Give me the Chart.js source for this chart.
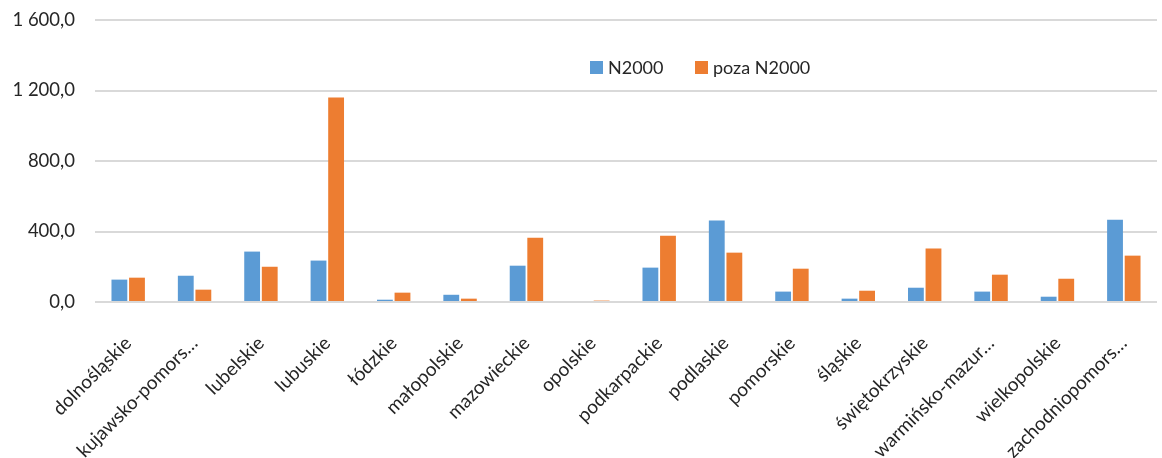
<!DOCTYPE html>
<html>
<head>
<meta charset="utf-8">
<script src="https://cdn.jsdelivr.net/npm/chart.js@4"></script>
<style>
  html, body { margin: 0; padding: 0; background: #ffffff; }
  #wrap { width: 1162px; height: 458px; }
</style>
</head>
<body>
<div id="wrap"><canvas id="chart"></canvas></div>
<script>
// Voivodeships (labels truncated as in the source chart)
const categories = [
    'dolnośląskie', 'kujawsko-pomors…', 'lubelskie', 'lubuskie', 'łódzkie',
    'małopolskie', 'mazowieckie', 'opolskie', 'podkarpackie', 'podlaskie',
    'pomorskie', 'śląskie', 'świętokrzyskie', 'warmińsko-mazur…', 'wielkopolskie',
    'zachodniopomors…'
];
const seriesNames = ['N2000', 'poza N2000'];
const n2000 = [127, 149, 286, 235, 13, 41, 206, 0, 195, 462, 59, 19, 81, 59, 30, 467];
const pozaN2000 = [138, 70, 200, 1160, 53, 19, 365, 8, 376, 280, 189, 64, 303, 155, 132, 263];
const yTicks = [0, 400, 800, 1200, 1600];

const fontFamily = 'Lato, "Open Sans", sans-serif';
const textColor = '#262626';

function formatPl(v) {
    const parts = v.toFixed(1).split('.');
    return parts[0].replace(/\B(?=(\d{3})+(?!\d))/g, ' ') + ',' + parts[1];
}

// Legend drawn inside the plot area, like the Excel original
const insideLegend = {
    id: 'insideLegend',
    afterDraw(chart) {
        const c = chart.ctx;
        const y = 67;
        let x = 590;
        c.save();
        c.font = '18px ' + fontFamily;
        c.textBaseline = 'middle';
        chart.data.datasets.forEach(ds => {
            c.fillStyle = ds.backgroundColor;
            c.fillRect(x, y - 6, 13, 13);
            c.fillStyle = textColor;
            c.fillText(ds.label, x + 18, y + 1);
            x += 105;
        });
        c.restore();
    }
};

new Chart(document.getElementById('chart'), {
    type: 'bar',
    data: {
        labels: categories,
        datasets: [
            { label: seriesNames[0], data: n2000, backgroundColor: '#5B9BD5' },
            { label: seriesNames[1], data: pozaN2000, backgroundColor: '#ED7D31' }
        ]
    },
    options: {
        responsive: true,
        maintainAspectRatio: false,
        animation: false,
        datasets: {
            bar: { categoryPercentage: 0.53, barPercentage: 0.9 }
        },
        layout: { padding: { top: 20, right: 2, left: 0, bottom: 0 } },
        plugins: {
            legend: { display: false },
            tooltip: { enabled: false }
        },
        scales: {
            y: {
                min: 0,
                max: 1600,
                afterBuildTicks: axis => { axis.ticks = yTicks.map(v => ({ value: v })); },
                afterFit: axis => {
                    axis.width = 95;
                    axis.paddingTop = 0;
                    axis.paddingBottom = 0;
                },
                border: { display: false },
                grid: { color: '#d9d9d9', lineWidth: 2, drawTicks: false },
                ticks: {
                    padding: 20,
                    color: textColor,
                    font: { family: fontFamily, size: 18.5 },
                    callback: v => formatPl(v)
                }
            },
            x: {
                afterFit: axis => { axis.height = 156; },
                border: { display: false },
                grid: { display: false },
                ticks: {
                    autoSkip: false,
                    minRotation: 45,
                    maxRotation: 45,
                    padding: 22,
                    color: textColor,
                    font: { family: fontFamily, size: 19 }
                }
            }
        }
    },
    plugins: [insideLegend]
});
</script>
</body>
</html>
